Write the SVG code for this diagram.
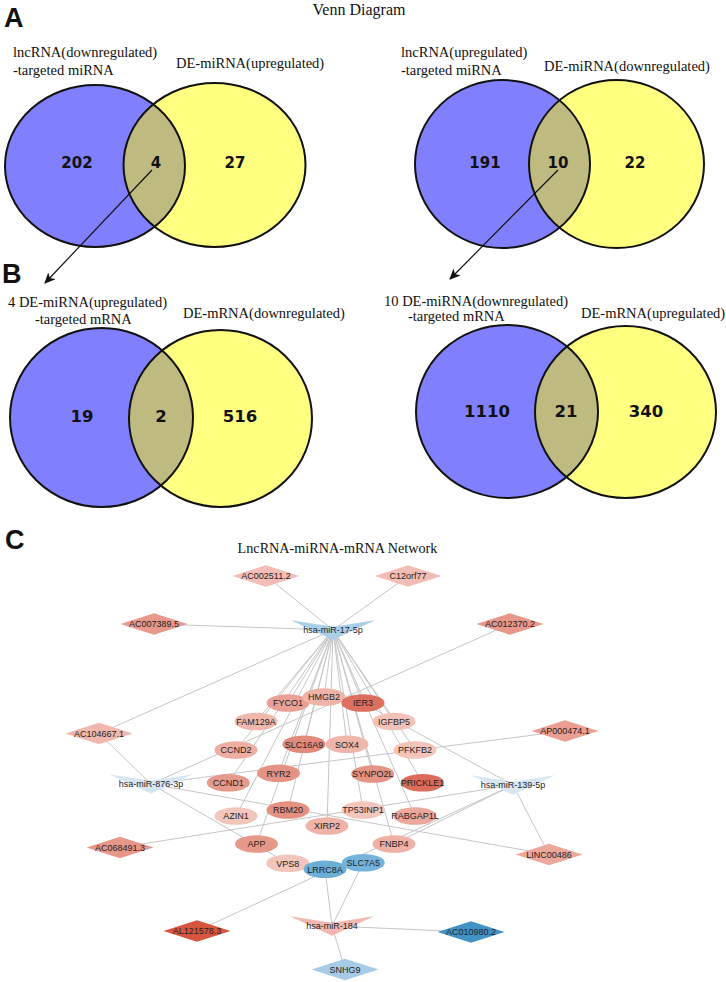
<svg xmlns="http://www.w3.org/2000/svg" xmlns:xlink="http://www.w3.org/1999/xlink" width="726" height="982" viewBox="0 0 726 982">
<style>
.ttl{font-family:"Liberation Serif","Times New Roman",serif;font-size:14.5px;fill:#111}
.hd{font-family:"Liberation Serif","Times New Roman",serif;font-size:16px;fill:#111}
.num{font-family:"DejaVu Sans",Verdana,sans-serif;font-weight:bold;font-size:15px;text-anchor:middle;fill:#111}
.numb{font-family:"DejaVu Sans",Verdana,sans-serif;font-weight:bold;font-size:16.5px;text-anchor:middle;fill:#111}
.lab{font-family:"Liberation Sans",Arial,sans-serif;font-weight:bold;font-size:27px;fill:#111}
.nl{font-family:"Liberation Sans",Arial,sans-serif;font-size:9px;text-anchor:middle;fill:#222}
.vb{fill:#8080ff}
.vy{fill:#ffff80}
.vi{fill:#bfbb80}
.vs{fill:none;stroke:#111;stroke-width:2}
.arr{stroke:#111;stroke-width:1.2;fill:none}
.e line{stroke:#c6c6c6;stroke-width:1}
</style>
<defs>
<marker id="ah" markerWidth="12" markerHeight="10" refX="10" refY="5" orient="auto" markerUnits="userSpaceOnUse">
<path d="M0,0 L11,5 L0,10 L3,5 z" fill="#111"/>
</marker>
<polygon id="dia" points="-33.5,0 0,-10.8 33.5,0 0,10.8"/>
<polygon id="vee" points="-42,-9.8 0,-3.3 42,-9.8 0,9.8"/>
<ellipse id="ell" rx="21.5" ry="8.8"/>
<clipPath id="cA1"><ellipse cx="95" cy="166" rx="90" ry="81"/></clipPath>
<clipPath id="cA2"><ellipse cx="502.5" cy="164" rx="87.5" ry="84"/></clipPath>
<clipPath id="cB1"><ellipse cx="101.5" cy="417.5" rx="91.5" ry="89.5"/></clipPath>
<clipPath id="cB2"><ellipse cx="507" cy="411.5" rx="91" ry="86.5"/></clipPath>
</defs>
<rect width="726" height="982" fill="#fff"/>

<!-- Panel A -->
<text class="lab" x="4" y="27">A</text>
<text class="hd" x="359" y="15" text-anchor="middle">Venn Diagram</text>

<g id="vennA1">
<ellipse cx="95" cy="166" rx="90" ry="81" class="vb"/>
<ellipse cx="214.5" cy="165" rx="91" ry="82" class="vy"/>
<ellipse cx="214.5" cy="165" rx="91" ry="82" class="vi" clip-path="url(#cA1)"/>
<ellipse cx="95" cy="166" rx="90" ry="81" class="vs"/>
<ellipse cx="214.5" cy="165" rx="91" ry="82" class="vs"/>
<text class="ttl" x="13" y="57">lncRNA(downregulated)</text>
<text class="ttl" x="13" y="75">-targeted miRNA</text>
<text class="ttl" x="176" y="68">DE-miRNA(upregulated)</text>
<text class="num" x="77" y="168">202</text>
<text class="num" x="156" y="168">4</text>
<text class="num" x="235" y="168">27</text>
</g>

<g id="vennA2">
<ellipse cx="502.5" cy="164" rx="87.5" ry="84" class="vb"/>
<ellipse cx="616.5" cy="164" rx="87.5" ry="84" class="vy"/>
<ellipse cx="616.5" cy="164" rx="87.5" ry="84" class="vi" clip-path="url(#cA2)"/>
<ellipse cx="502.5" cy="164" rx="87.5" ry="84" class="vs"/>
<ellipse cx="616.5" cy="164" rx="87.5" ry="84" class="vs"/>
<text class="ttl" x="401" y="57">lncRNA(upregulated)</text>
<text class="ttl" x="401" y="75">-targeted miRNA</text>
<text class="ttl" x="544" y="71">DE-miRNA(downregulated)</text>
<text class="num" x="485" y="168">191</text>
<text class="num" x="558" y="168">10</text>
<text class="num" x="635" y="168">22</text>
</g>

<g id="arrowsAB">
<line class="arr" x1="152" y1="170" x2="45" y2="283" marker-end="url(#ah)"/>
<line class="arr" x1="558" y1="170" x2="450" y2="279" marker-end="url(#ah)"/>
</g>

<!-- Panel B -->
<text class="lab" x="2" y="283">B</text>

<g id="vennB1">
<ellipse cx="101.5" cy="417.5" rx="91.5" ry="89.5" class="vb"/>
<ellipse cx="220.5" cy="418.5" rx="91.5" ry="88.5" class="vy"/>
<ellipse cx="220.5" cy="418.5" rx="91.5" ry="88.5" class="vi" clip-path="url(#cB1)"/>
<ellipse cx="101.5" cy="417.5" rx="91.5" ry="89.5" class="vs"/>
<ellipse cx="220.5" cy="418.5" rx="91.5" ry="88.5" class="vs"/>
<text class="ttl" x="8" y="307">4 DE-miRNA(upregulated)</text>
<text class="ttl" x="35" y="324">-targeted mRNA</text>
<text class="ttl" x="183" y="318">DE-mRNA(downregulated)</text>
<text class="numb" x="82" y="422">19</text>
<text class="numb" x="161" y="422">2</text>
<text class="numb" x="240" y="422">516</text>
</g>

<g id="vennB2">
<ellipse cx="507" cy="411.5" rx="91" ry="86.5" class="vb"/>
<ellipse cx="625.5" cy="412" rx="90.5" ry="86" class="vy"/>
<ellipse cx="625.5" cy="412" rx="90.5" ry="86" class="vi" clip-path="url(#cB2)"/>
<ellipse cx="507" cy="411.5" rx="91" ry="86.5" class="vs"/>
<ellipse cx="625.5" cy="412" rx="90.5" ry="86" class="vs"/>
<text class="ttl" x="384" y="306">10 DE-miRNA(downregulated)</text>
<text class="ttl" x="408" y="321">-targeted mRNA</text>
<text class="ttl" x="581" y="318">DE-mRNA(upregulated)</text>
<text class="numb" x="487" y="417">1110</text>
<text class="numb" x="566" y="417">21</text>
<text class="numb" x="646" y="417">340</text>
</g>

<!-- Panel C -->
<text class="lab" x="5" y="549">C</text>
<text class="ttl" x="337.5" y="553" text-anchor="middle" style="font-size:14.2px">LncRNA-miRNA-mRNA Network</text>

<g id="edges" class="e">
<line x1="333" y1="630" x2="266" y2="576"/>
<line x1="333" y1="630" x2="408" y2="576"/>
<line x1="333" y1="630" x2="154" y2="624"/>
<line x1="333" y1="630" x2="99" y2="733.5"/>
<line x1="333" y1="630" x2="288" y2="703"/>
<line x1="333" y1="630" x2="324" y2="697"/>
<line x1="333" y1="630" x2="363" y2="703"/>
<line x1="333" y1="630" x2="256" y2="721.5"/>
<line x1="333" y1="630" x2="394" y2="721.5"/>
<line x1="333" y1="630" x2="236" y2="750"/>
<line x1="333" y1="630" x2="304" y2="744.3"/>
<line x1="333" y1="630" x2="347" y2="744.3"/>
<line x1="333" y1="630" x2="415" y2="750"/>
<line x1="333" y1="630" x2="278.5" y2="773.3"/>
<line x1="333" y1="630" x2="228.3" y2="782.7"/>
<line x1="333" y1="630" x2="372.7" y2="774"/>
<line x1="333" y1="630" x2="422.5" y2="782.7"/>
<line x1="333" y1="630" x2="288" y2="810"/>
<line x1="333" y1="630" x2="236" y2="816"/>
<line x1="333" y1="630" x2="363" y2="810"/>
<line x1="333" y1="630" x2="327" y2="826"/>
<line x1="333" y1="630" x2="415" y2="816"/>
<line x1="333" y1="630" x2="256.5" y2="844"/>
<line x1="333" y1="630" x2="394" y2="844"/>
<line x1="151" y1="784" x2="99" y2="733.5"/>
<line x1="151" y1="784" x2="510" y2="624"/>
<line x1="151" y1="784" x2="565" y2="731"/>
<line x1="151" y1="784" x2="549" y2="854.5"/>
<line x1="151" y1="784" x2="287.7" y2="863.3"/>
<line x1="513" y1="785" x2="363" y2="703"/>
<line x1="513" y1="785" x2="394" y2="844"/>
<line x1="513" y1="785" x2="120" y2="847.5"/>
<line x1="513" y1="785" x2="197" y2="931"/>
<line x1="513" y1="785" x2="549" y2="854.5"/>
<line x1="332" y1="926" x2="325" y2="869.3"/>
<line x1="332" y1="926" x2="363.3" y2="862.7"/>
<line x1="332" y1="926" x2="471" y2="932"/>
<line x1="332" y1="926" x2="345" y2="969.5"/>
</g>

<g id="n-AC002511.2" transform="translate(266,576)"><use xlink:href="#dia" fill="#f1bdb4"/><text class="nl" y="3.2">AC002511.2</text></g>
<g id="n-C12orf77" transform="translate(408,576)"><use xlink:href="#dia" fill="#f1bdb4"/><text class="nl" y="3.2">C12orf77</text></g>
<g id="n-AC007389.5" transform="translate(154,624)"><use xlink:href="#dia" fill="#e9988b"/><text class="nl" y="3.2">AC007389.5</text></g>
<g id="n-AC012370.2" transform="translate(510,624)"><use xlink:href="#dia" fill="#e8978a"/><text class="nl" y="3.2">AC012370.2</text></g>
<g id="n-AC104667.1" transform="translate(99,733.5)"><use xlink:href="#dia" fill="#f0b7ad"/><text class="nl" y="3.2">AC104667.1</text></g>
<g id="n-AP000474.1" transform="translate(565,731)"><use xlink:href="#dia" fill="#eb9f92"/><text class="nl" y="3.2">AP000474.1</text></g>
<g id="n-AC068491.3" transform="translate(120,847.5)"><use xlink:href="#dia" fill="#e8968a"/><text class="nl" y="3.2">AC068491.3</text></g>
<g id="n-LINC00486" transform="translate(549,854.5)"><use xlink:href="#dia" fill="#eda79b"/><text class="nl" y="3.2">LINC00486</text></g>
<g id="n-AL121578.3" transform="translate(197,931)"><use xlink:href="#dia" fill="#d7553e"/><text class="nl" y="3.2">AL121578.3</text></g>
<g id="n-AC010980.2" transform="translate(471,932)"><use xlink:href="#dia" fill="#4292c6"/><text class="nl" y="3.2">AC010980.2</text></g>
<g id="n-SNHG9" transform="translate(345,969.5)"><use xlink:href="#dia" fill="#a6cbe6"/><text class="nl" y="3.2">SNHG9</text></g>

<g id="n-hsa-miR-17-5p" transform="translate(333,630)"><use xlink:href="#vee" fill="#a9cfe8"/><text class="nl" y="3">hsa-miR-17-5p</text></g>
<g id="n-hsa-miR-876-3p" transform="translate(151,784)"><use xlink:href="#vee" fill="#d6e6f3"/><text class="nl" y="3">hsa-miR-876-3p</text></g>
<g id="n-hsa-miR-139-5p" transform="translate(513,785)"><use xlink:href="#vee" fill="#d6e6f3"/><text class="nl" y="2.5">hsa-miR-139-5p</text></g>
<g id="n-hsa-miR-184" transform="translate(332,926)"><use xlink:href="#vee" fill="#f0b8b0"/><text class="nl" y="3">hsa-miR-184</text></g>

<g id="n-FYCO1" transform="translate(288,703)"><use xlink:href="#ell" fill="#e9a195"/><text class="nl" y="3.2">FYCO1</text></g>
<g id="n-HMGB2" transform="translate(324,697)"><use xlink:href="#ell" fill="#efb3a8"/><text class="nl" y="3.2">HMGB2</text></g>
<g id="n-IER3" transform="translate(363,703)"><use xlink:href="#ell" fill="#dd6f5e"/><text class="nl" y="3.2">IER3</text></g>
<g id="n-FAM129A" transform="translate(256,721.5)"><use xlink:href="#ell" fill="#f0b8ad"/><text class="nl" y="3.2">FAM129A</text></g>
<g id="n-IGFBP5" transform="translate(394,721.5)"><use xlink:href="#ell" fill="#f2c2b8"/><text class="nl" y="3.2">IGFBP5</text></g>
<g id="n-CCND2" transform="translate(236,750)"><use xlink:href="#ell" fill="#eeaea2"/><text class="nl" y="3.2">CCND2</text></g>
<g id="n-SLC16A9" transform="translate(304,744.3)"><use xlink:href="#ell" fill="#e28a7b"/><text class="nl" y="3.2">SLC16A9</text></g>
<g id="n-SOX4" transform="translate(347,744.3)"><use xlink:href="#ell" fill="#f0b6ab"/><text class="nl" y="3.2">SOX4</text></g>
<g id="n-PFKFB2" transform="translate(415,750)"><use xlink:href="#ell" fill="#f3c4ba"/><text class="nl" y="3.2">PFKFB2</text></g>
<g id="n-RYR2" transform="translate(278.5,773.3)"><use xlink:href="#ell" fill="#e59384"/><text class="nl" y="3.2">RYR2</text></g>
<g id="n-CCND1" transform="translate(228.3,782.7)"><use xlink:href="#ell" fill="#e69a8c"/><text class="nl" y="3.2">CCND1</text></g>
<g id="n-SYNPO2L" transform="translate(372.7,774)"><use xlink:href="#ell" fill="#e59385"/><text class="nl" y="3.2">SYNPO2L</text></g>
<g id="n-PRICKLE1" transform="translate(422.5,782.7)"><use xlink:href="#ell" fill="#dc6b5a"/><text class="nl" y="3.2">PRICKLE1</text></g>
<g id="n-RBM20" transform="translate(288,810)"><use xlink:href="#ell" fill="#e49182"/><text class="nl" y="3.2">RBM20</text></g>
<g id="n-AZIN1" transform="translate(236,816)"><use xlink:href="#ell" fill="#f3c6bc"/><text class="nl" y="3.2">AZIN1</text></g>
<g id="n-TP53INP1" transform="translate(363,810)"><use xlink:href="#ell" fill="#f3c6bc"/><text class="nl" y="3.2">TP53INP1</text></g>
<g id="n-XIRP2" transform="translate(327,826)"><use xlink:href="#ell" fill="#efb3a8"/><text class="nl" y="3.2">XIRP2</text></g>
<g id="n-RABGAP1L" transform="translate(415,816)"><use xlink:href="#ell" fill="#eba79b"/><text class="nl" y="3.2">RABGAP1L</text></g>
<g id="n-APP" transform="translate(256.5,844)"><use xlink:href="#ell" fill="#e69989"/><text class="nl" y="3.2">APP</text></g>
<g id="n-FNBP4" transform="translate(394,844)"><use xlink:href="#ell" fill="#efb1a5"/><text class="nl" y="3.2">FNBP4</text></g>
<g id="n-VPS8" transform="translate(287.7,863.3)"><use xlink:href="#ell" fill="#f3c5bb"/><text class="nl" y="3.2">VPS8</text></g>
<g id="n-LRRC8A" transform="translate(325,869.3)"><use xlink:href="#ell" fill="#6baed6"/><text class="nl" y="3.2">LRRC8A</text></g>
<g id="n-SLC7A5" transform="translate(363.3,862.7)"><use xlink:href="#ell" fill="#74b3da"/><text class="nl" y="3.2">SLC7A5</text></g>
</svg>
